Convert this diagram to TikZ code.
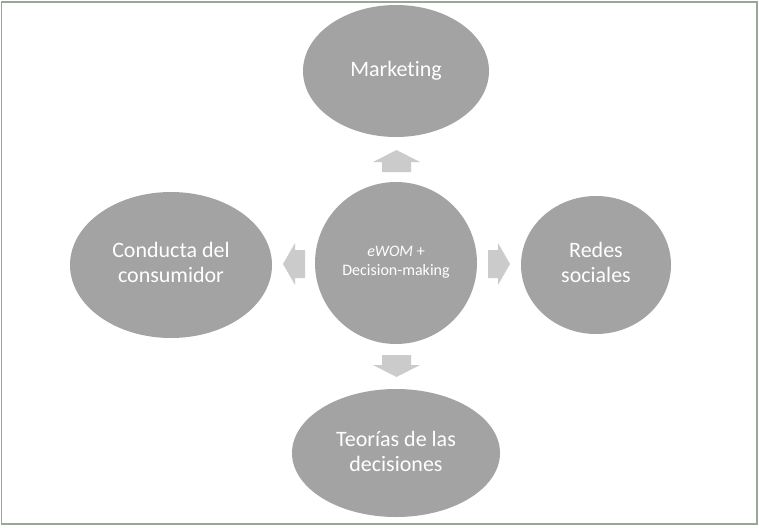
\documentclass[tikz,border=0pt]{standalone}
\usepackage{fontspec}
\setmainfont{Carlito}[Ligatures={NoCommon}]
\definecolor{framec}{HTML}{98A898}
\definecolor{bubble}{HTML}{A3A3A3}
\definecolor{arrowc}{HTML}{CBCBCB}
\begin{document}
\begin{tikzpicture}[x=1pt,y=-1pt,
  lbl/.style={text=white,align=center,inner sep=0pt,font=\fontsize{22}{25}\selectfont},
  blk/.style={fill=arrowc}]
\useasboundingbox (0,0) rectangle (759,527);
\draw[framec,line width=1.2pt] (1.5,2) rectangle (757,524);
\fill[bubble] (396,71) ellipse [x radius=93,y radius=66];
\node[lbl] (mk) at (396,71) {Marketing};
\fill[bubble] (171,265) ellipse [x radius=101,y radius=73];
\node[lbl] (cc) at (171,262) {Conducta del\\consumidor};
\fill[bubble] (596,265) ellipse [x radius=75,y radius=69];
\node[lbl] (rs) at (596,262) {Redes\\sociales};
\fill[bubble] (396,453) ellipse [x radius=104,y radius=64];
\node[lbl] (td) at (396,451) {Teorías de las\\decisiones};
\fill[bubble] (396,263) circle [radius=81];
\node[lbl,font=\fontsize{16}{19}\selectfont] (ew) at (396,262) {\textit{eWOM} +\\Decision-making};
% block arrows
\fill[blk] (382,172) -- (382,162) -- (373,162) -- (396.5,150) -- (420,162) -- (411,162) -- (411,172) -- cycle;
\fill[blk] (382,355) -- (382,365) -- (373,365) -- (396.5,377) -- (420,365) -- (411,365) -- (411,355) -- cycle;
\fill[blk] (305,250) -- (295,250) -- (295,243) -- (283,264) -- (295,285) -- (295,278) -- (305,278) -- cycle;
\fill[blk] (488,250) -- (498,250) -- (498,243) -- (510,264) -- (498,285) -- (498,278) -- (488,278) -- cycle;
\end{tikzpicture}
\end{document}
